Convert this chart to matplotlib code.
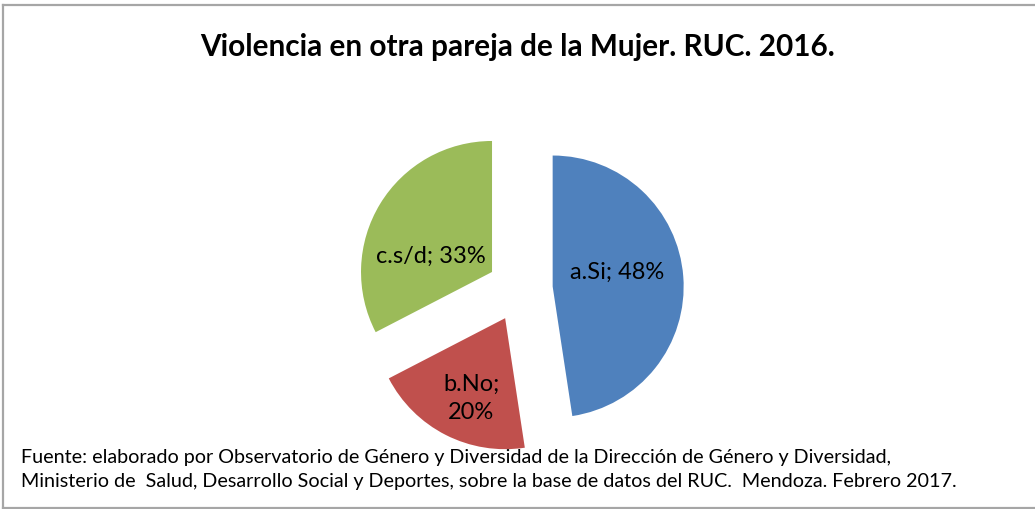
import matplotlib
matplotlib.use("Agg")
import matplotlib.pyplot as plt
import numpy as np
from matplotlib.lines import Line2D

categories = ["a.Si", "b.No", "c.s/d"]
values = [47.6, 19.8, 32.6]
pct_labels = ["48%", "20%", "33%"]
colors = ["#4F81BD", "#C0504D", "#9BBB59"]

title = "Violencia en otra pareja de la Mujer. RUC. 2016."
source = ("Fuente: elaborado por Observatorio de Género y Diversidad de la Dirección de Género y Diversidad,\n"
          "Ministerio de  Salud, Desarrollo Social y Deportes, sobre la base de datos del RUC.  Mendoza. Febrero 2017.")

W, H = 1035, 509
DPI = 100
fig = plt.figure(figsize=(W / DPI, H / DPI), dpi=DPI)
fig.patch.set_facecolor("white")

R = 131.0  # pixels per unit radius
cx, cy = 520.0, 289.0  # pie center in image pixels (y down)
ax = fig.add_axes([0, 0, 1, 1])
wedges, _ = ax.pie(values, colors=colors, startangle=90, counterclock=False,
                   explode=[0.25] * 3, radius=1.0,
                   wedgeprops=dict(linewidth=0))
ax.set_aspect("auto")
ax.set_xlim(-cx / R, (W - cx) / R)
ax.set_ylim(-(H - cy) / R, cy / R)
ax.axis("off")

font = "Lato"
# label offsets relative to each wedge tip (data units): (dx, dy)
label_offsets = [(0.49, 0.11), (-0.26, -0.61), (-0.47, 0.12)]
texts = [f"{categories[0]}; {pct_labels[0]}",
         f"{categories[1]};\n{pct_labels[1]}",
         f"{categories[2]}; {pct_labels[2]}"]
for w, (dx, dy), t in zip(wedges, label_offsets, texts):
    tx, ty = w.center
    ax.text(tx + dx, ty + dy, t, ha="center", va="center", fontsize=17,
            family=font, color="black", linespacing=1.42)

fig.text(518 / W, 1 - 47 / H, title, ha="center", va="center",
         fontsize=21.4, fontweight="bold", family=font)
fig.text(21 / W, 1 - 470 / H, source, ha="left", va="center",
         fontsize=14.2, family=font, linespacing=1.5)

# chart border (left, top, bottom)
bc = "#A6A6A6"
fig.add_artist(Line2D([3 / W, 3 / W], [1 - 5 / H, 1 - 508 / H], color=bc, lw=1.6, transform=fig.transFigure))
fig.add_artist(Line2D([3 / W, 1], [1 - 5 / H, 1 - 5 / H], color=bc, lw=1.6, transform=fig.transFigure))
fig.add_artist(Line2D([3 / W, 1], [1 - 508 / H, 1 - 508 / H], color=bc, lw=1.6, transform=fig.transFigure))

fig.savefig("out.png", dpi=DPI)
